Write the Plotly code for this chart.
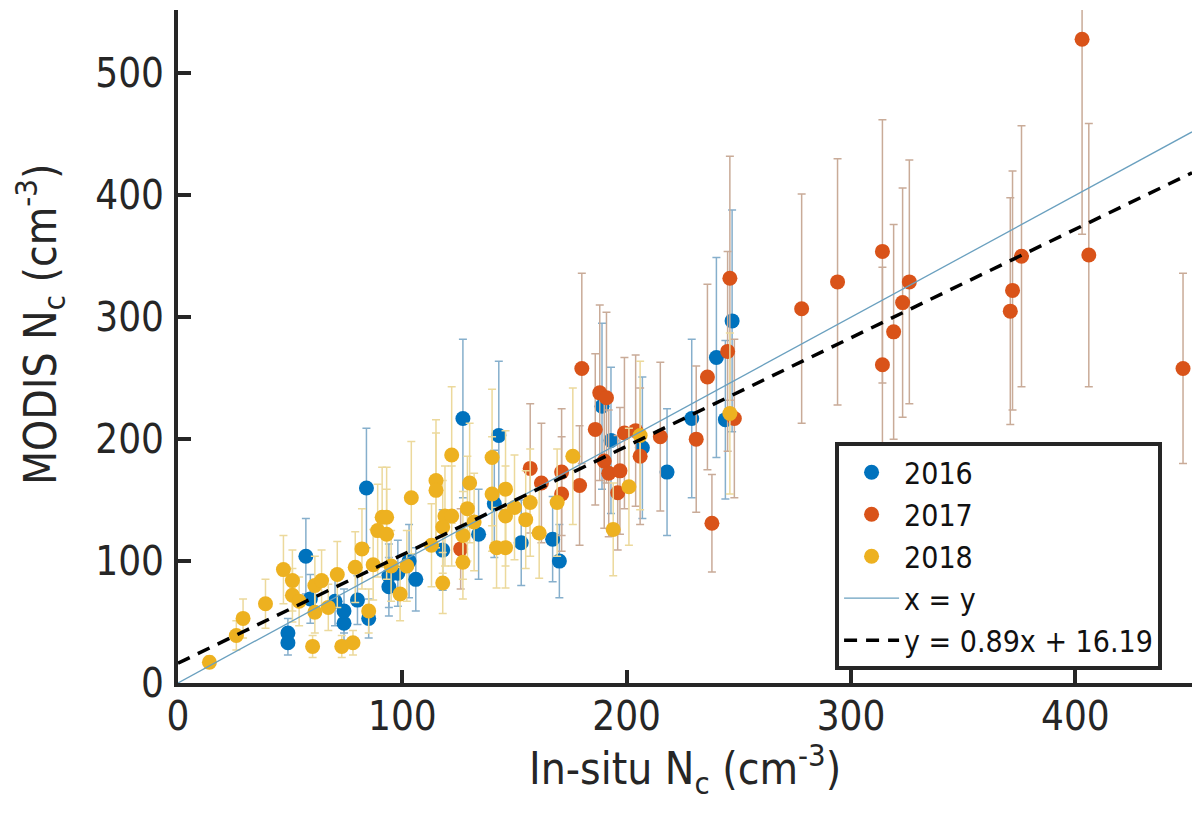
import plotly.graph_objects as go

# ---- data ----
x2016 = [49, 49, 57, 59, 70, 74, 74, 80, 84, 85, 94, 94, 98, 103, 106, 118, 127, 134, 141, 143,
         153, 167, 170, 189, 193, 207, 218, 229, 240, 244, 247]
y2016 = [41, 33, 104, 69, 67, 49, 59, 68, 160, 53, 88, 79, 90, 100, 85, 109, 217, 122, 147, 203,
         115, 118, 100, 227, 199, 193, 173, 217, 267, 216, 297]
e2016 = [12, 10, 31, 20, 20, 14, 18, 20, 49, 16, 26, 24, 27, 30, 26, 33, 65, 37, 44, 61,
         35, 35, 30, 68, 60, 58, 52, 65, 82, 65, 91]

x2017 = [126, 157, 162, 171, 171, 179, 180, 186, 188, 191, 190, 192, 197, 196, 199, 204, 206, 215,
         231, 236, 238, 245, 246, 248, 278, 294, 314, 314, 319, 323, 326, 371, 372, 376, 403, 406, 448]
y2017 = [110, 176, 164, 173, 155, 162, 258, 208, 238, 234, 182, 172, 174, 156, 205, 207, 186, 202,
         200, 251, 131, 272, 332, 217, 307, 329, 354, 261, 288, 312, 329, 305, 322, 350, 528, 351, 258]
e2017 = [33, 53, 49, 52, 47, 49, 78, 62, 72, 70, 55, 52, 52, 47, 62, 62, 56, 61,
         60, 76, 40, 82, 100, 65, 94, 101, 108, 80, 88, 94, 100, 93, 98, 107, 160, 108, 78]

x2018 = [14, 26, 29, 39, 47, 51, 51, 54, 60, 61, 61, 64, 67, 71, 73, 78, 79, 82, 85, 87, 89, 91,
         93, 93, 95, 99, 102, 104, 113, 115, 115, 118, 118, 119, 122, 122, 127, 127, 129, 130, 132,
         140, 140, 142, 146, 146, 146, 150, 155, 157, 161, 169, 176, 194, 201, 206, 246]
y2018 = [17, 39, 53, 65, 93, 84, 72, 67, 30, 58, 80, 84, 62, 89, 30, 33, 95, 110, 59, 97, 125, 136,
         136, 122, 96, 73, 96, 152, 113, 166, 158, 128, 82, 137, 137, 187, 121, 99, 143, 164, 132,
         185, 155, 111, 111, 137, 159, 144, 134, 148, 123, 148, 186, 126, 161, 203, 221]
e2018 = [5, 12, 16, 20, 28, 25, 22, 20, 9, 17, 24, 25, 19, 27, 9, 10, 29, 33, 18, 29, 38, 41,
         41, 37, 29, 22, 29, 46, 34, 50, 47, 38, 25, 41, 41, 56, 36, 30, 43, 49, 40,
         56, 47, 33, 33, 41, 48, 43, 40, 44, 37, 44, 56, 38, 48, 61, 66]

line_x = [0, 452]
fit_slope, fit_intercept = 0.89, 16.19

FONT = "DejaVu Sans Condensed, DejaVu Sans, sans-serif"
AX = "#262626"

fig = go.Figure()

series = [
    ("2016", x2016, y2016, e2016, "#0072BD", "#86afcc"),
    ("2017", x2017, y2017, e2017, "#D95319", "#c9ab98"),
    ("2018", x2018, y2018, e2018, "#EDB120", "#ecd99c"),
]
for name, xs, ys, es, col, ecol in series:
    fig.add_trace(go.Scatter(
        x=xs, y=ys, mode="markers", name=name,
        marker=dict(size=15, color=col, line=dict(width=0)),
        error_y=dict(type="data", array=es, visible=True, color=ecol, thickness=1.5, width=4),
    ))

fig.add_trace(go.Scatter(
    x=line_x, y=line_x, mode="lines", name="x = y",
    line=dict(color="#6aa0bf", width=1.3),
))
fig.add_trace(go.Scatter(
    x=line_x, y=[fit_slope * v + fit_intercept for v in line_x], mode="lines",
    name="y = 0.89x + 16.19",
    line=dict(color="black", width=3.5, dash="13px,9px"),
))

axis_common = dict(
    showgrid=False, zeroline=False, showline=True, linewidth=4, linecolor=AX,
    ticks="inside", ticklen=13, tickwidth=4, tickcolor=AX,
    tickfont=dict(family=FONT, size=40, color=AX),
)
fig.update_xaxes(range=[0, 452], tickvals=[0, 100, 200, 300, 400], ticklabelstandoff=-5, **axis_common)
fig.update_yaxes(range=[0, 552], tickvals=[0, 100, 200, 300, 400, 500], ticklabelstandoff=2, **axis_common)

fig.add_annotation(
    text="In-situ N<sub>c</sub> (cm<sup>-3</sup>)", xref="paper", yref="paper",
    x=0.5, y=-0.128, xanchor="center", yanchor="middle", showarrow=False,
    font=dict(family=FONT, size=44, color=AX),
)
fig.add_annotation(
    text="MODIS N<sub>c</sub> (cm<sup>-3</sup>)", xref="paper", yref="paper",
    x=-0.136, y=0.532, xanchor="center", yanchor="middle", textangle=-90, showarrow=False,
    font=dict(family=FONT, size=44, color=AX),
)

fig.update_layout(
    width=1195, height=816,
    margin=dict(l=178, r=3, t=10, b=133),
    paper_bgcolor="white", plot_bgcolor="white",
    font=dict(family=FONT, color=AX),
    legend=dict(
        x=0.648, y=0.019, xanchor="left", yanchor="bottom",
        bgcolor="white", bordercolor=AX, borderwidth=4,
        font=dict(family=FONT, size=30, color="#111111"),
        itemwidth=55,
    ),
    showlegend=True,
)

fig.write_html("out.html", config={"displayModeBar": False},
               post_script="document.body.style.margin='0';")
